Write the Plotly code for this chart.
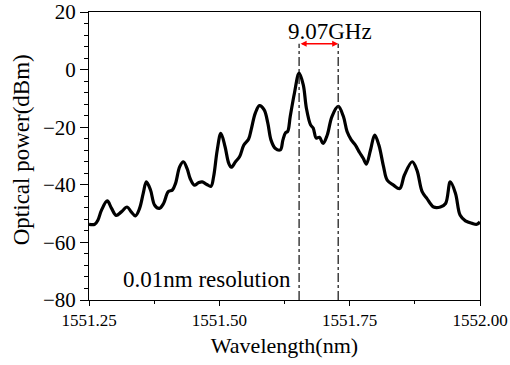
import plotly.graph_objects as go

# Spectrum data
wavelength_nm = [
    1551.250, 1551.261, 1551.267, 1551.274, 1551.285, 1551.293, 1551.302, 1551.312,
    1551.323, 1551.331, 1551.339, 1551.347, 1551.354, 1551.360, 1551.368, 1551.376,
    1551.385, 1551.393, 1551.402, 1551.410, 1551.416, 1551.424, 1551.431, 1551.438,
    1551.444, 1551.452, 1551.460, 1551.467, 1551.476, 1551.484, 1551.489, 1551.496,
    1551.503, 1551.511, 1551.518, 1551.523, 1551.531, 1551.539, 1551.547, 1551.556,
    1551.561, 1551.569, 1551.577, 1551.586, 1551.593, 1551.599, 1551.607, 1551.617,
    1551.622, 1551.627, 1551.631, 1551.636, 1551.644, 1551.653, 1551.661, 1551.667,
    1551.675, 1551.680, 1551.686, 1551.692, 1551.699, 1551.707, 1551.716, 1551.728,
    1551.738, 1551.745, 1551.753, 1551.761, 1551.769, 1551.776, 1551.782, 1551.790,
    1551.798, 1551.806, 1551.815, 1551.822, 1551.834, 1551.846, 1551.855, 1551.870,
    1551.879, 1551.889, 1551.898, 1551.911, 1551.924, 1551.934, 1551.943, 1551.953,
    1551.962, 1551.972, 1551.985, 1551.994, 1552.000,
]
power_dbm = [
    -53.7, -53.7, -52.3, -48.8, -45.6, -48.1, -50.6, -49.4,
    -47.7, -49.4, -50.8, -48.2, -43.0, -39.0, -41.8, -47.1,
    -48.2, -46.5, -42.4, -41.8, -39.5, -33.7, -32.0, -34.3,
    -37.8, -40.1, -39.3, -39.0, -39.9, -40.5, -37.2, -27.9,
    -22.1, -26.8, -32.5, -33.9, -32.0, -30.2, -26.2, -24.2,
    -20.9, -15.1, -12.5, -14.0, -18.6, -24.4, -27.3, -27.9,
    -24.4, -21.9, -21.5, -16.3, -8.2, -1.2, -5.3, -13.4,
    -19.2, -20.3, -23.8, -23.5, -25.6, -22.7, -16.3, -12.8,
    -16.3, -21.5, -24.4, -26.2, -28.8, -30.8, -32.8, -27.9,
    -22.7, -26.2, -33.7, -38.4, -40.1, -41.3, -36.6, -32.0,
    -34.9, -42.4, -44.7, -47.7, -47.7, -46.5, -39.0, -43.0,
    -50.6, -52.5, -53.4, -53.7, -52.9,
]

marker_wavelengths = [1551.653, 1551.728]
marker_top_dbm = 9
spacing_label = "9.07GHz"
spacing_label_wl = 1551.713
spacing_label_dbm = 13.3
resolution_label = "0.01nm resolution"
resolution_wl = 1551.477
resolution_dbm = -72.9

x_range = [1551.25, 1552.00]
y_range = [-80, 20]
x_ticks = [1551.25, 1551.50, 1551.75, 1552.00]
y_ticks = [-80, -60, -40, -20, 0, 20]

FONT = "Liberation Serif"

fig = go.Figure()
fig.add_trace(go.Scatter(
    x=wavelength_nm, y=power_dbm, mode="lines",
    line=dict(color="black", width=3.2, shape="spline", smoothing=1.0),
    showlegend=False, hoverinfo="skip",
))

for wl in marker_wavelengths:
    fig.add_shape(type="line", xref="x", yref="y",
                  x0=wl, x1=wl, y0=y_range[0], y1=marker_top_dbm,
                  line=dict(color="#222222", width=1.3, dash="dashdot"))

# red double-headed arrow
fig.add_annotation(x=marker_wavelengths[1], y=marker_top_dbm,
                   ax=marker_wavelengths[0], ay=marker_top_dbm,
                   xref="x", yref="y", axref="x", ayref="y",
                   text="", showarrow=True, arrowhead=2, startarrowhead=2,
                   arrowside="end+start", arrowsize=0.8, startarrowsize=0.8,
                   arrowwidth=1.5, arrowcolor="red", standoff=0, startstandoff=0)

fig.add_annotation(x=spacing_label_wl, y=spacing_label_dbm,
                   xref="x", yref="y", text=spacing_label, showarrow=False,
                   font=dict(family=FONT, size=23, color="black"))
fig.add_annotation(x=resolution_wl, y=resolution_dbm, xref="x", yref="y",
                   text=resolution_label, showarrow=False,
                   font=dict(family=FONT, size=23, color="black"))

# y-axis title placed as an annotation for precise positioning
fig.add_annotation(x=0, y=0.52, xref="paper", yref="paper", xshift=-68,
                   xanchor="center", yanchor="middle",
                   text="Optical power(dBm)", textangle=-90, showarrow=False,
                   font=dict(family=FONT, size=23, color="black"))

fig.update_layout(
    width=510, height=365,
    margin=dict(l=89, r=30, t=12, b=65),
    paper_bgcolor="white", plot_bgcolor="white",
    font=dict(family=FONT, color="black"),
)
fig.update_xaxes(
    range=x_range, tickvals=x_ticks, tickformat=".2f", automargin=False,
    ticks="outside", ticklen=5, tickwidth=1, tickcolor="black",
    minor=dict(dtick=0.125, tick0=1551.25, ticks="outside", ticklen=3, tickcolor="black"),
    showline=True, linecolor="black", linewidth=1, mirror=True,
    showgrid=False, zeroline=False,
    tickfont=dict(family=FONT, size=17, color="black"),
    title=dict(text="Wavelength(nm)", font=dict(family=FONT, size=22, color="black"), standoff=8),
)
fig.update_yaxes(
    range=y_range, tickvals=y_ticks, automargin=False,
    ticks="outside", ticklen=8, tickwidth=1, tickcolor="black",
    minor=dict(dtick=4, tick0=-80, ticks="outside", ticklen=4, tickcolor="black"),
    showline=True, linecolor="black", linewidth=1, mirror=True,
    showgrid=False, zeroline=False,
    tickfont=dict(family=FONT, size=21, color="black"),
)

fig.write_html("out.html")
